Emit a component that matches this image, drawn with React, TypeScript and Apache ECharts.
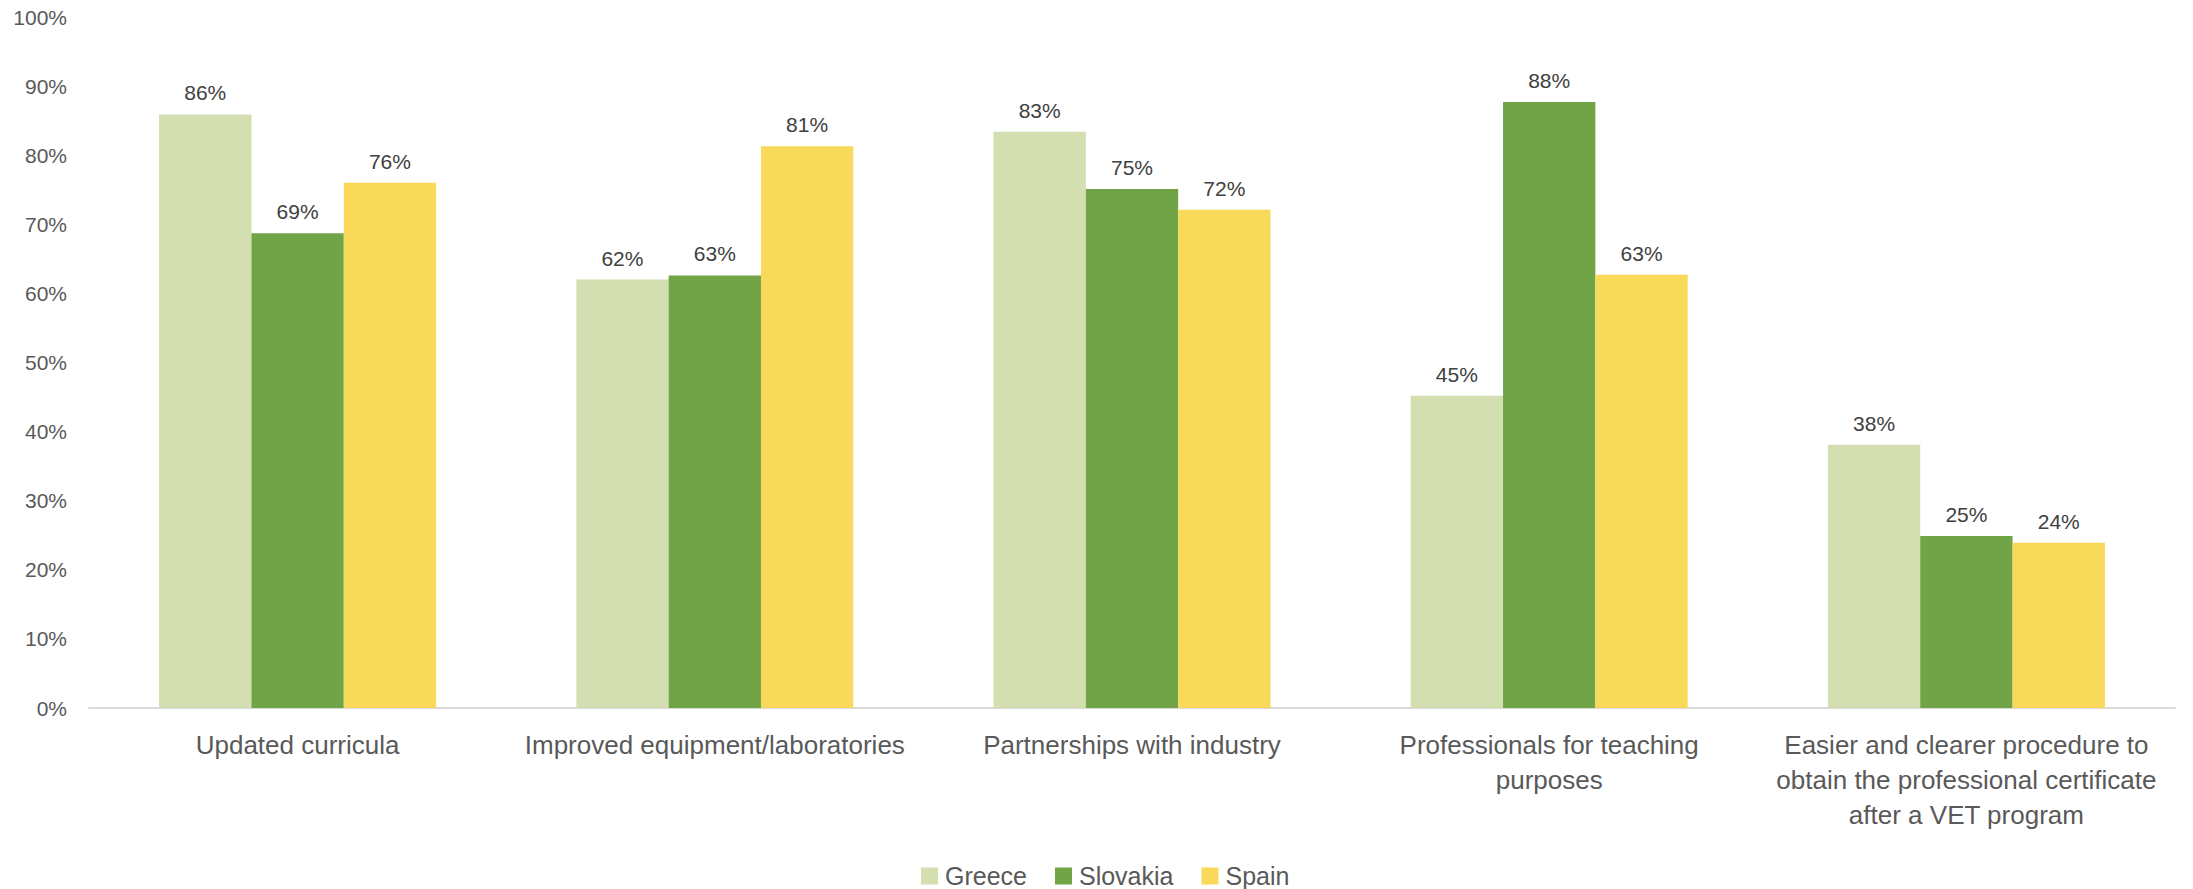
import React, { useEffect, useRef } from "react";
import * as echarts from "echarts";

const categories = [
  "Updated curricula",
  "Improved equipment/laboratories",
  "Partnerships with industry",
  "Professionals for teaching\npurposes",
  "Easier and clearer procedure to\nobtain the professional certificate\nafter a VET program",
];
const seriesNames = ["Greece", "Slovakia", "Spain"];
const greece = [85.9, 62.0, 83.4, 45.2, 38.1];
const slovakia = [68.7, 62.6, 75.1, 87.7, 24.9];
const spain = [76.0, 81.3, 72.1, 62.7, 23.9];
const colors = ["#D3DFB0", "#71A446", "#F8D95A"];
const yTicks = { min: 0, max: 100, interval: 10 };

export default function App() {
  const ref = useRef<HTMLDivElement>(null);
  useEffect(() => {
    if (!ref.current) return;
    const chart = echarts.init(ref.current, null, { renderer: "svg" });
    const font = "'Liberation Sans', Arial, sans-serif";
    const textColor = "#595959";
    const values = [greece, slovakia, spain];
    chart.setOption({
      animation: false,
      textStyle: { fontFamily: font, color: textColor },
      grid: { left: 89, right: 18, top: 17, bottom: 181, containLabel: false },
      legend: {
        left: 921,
        top: 862,
        padding: 0,
        itemWidth: 17,
        itemHeight: 17,
        itemGap: 28,
        icon: "rect",
        textStyle: {
          fontSize: 25,
          lineHeight: 28,
          color: textColor,
          fontFamily: font,
          padding: [0, 0, 0, 2],
        },
        data: seriesNames,
      },
      xAxis: {
        type: "category",
        data: categories,
        axisLine: { lineStyle: { color: "#D9D9D9", width: 2 } },
        axisTick: { show: false },
        axisLabel: {
          interval: 0,
          fontSize: 26,
          lineHeight: 35,
          color: textColor,
          margin: 19,
          fontFamily: font,
        },
      },
      yAxis: {
        type: "value",
        min: yTicks.min,
        max: yTicks.max,
        interval: yTicks.interval,
        splitLine: { show: false },
        axisLine: { show: false },
        axisTick: { show: false },
        axisLabel: {
          formatter: "{value}%",
          fontSize: 21,
          color: textColor,
          margin: 22,
          fontFamily: font,
        },
      },
      series: seriesNames.map((name, i) => ({
        name,
        type: "bar",
        data: values[i],
        barGap: "0%",
        barCategoryGap: "33.6%",
        itemStyle: { color: colors[i] },
        label: {
          show: true,
          position: "top",
          distance: 11,
          fontSize: 21,
          color: "#404040",
          fontFamily: font,
          formatter: (p: any) => Math.round(p.value) + "%",
        },
      })),
    });
    return () => chart.dispose();
  }, []);
  return (
    <div
      ref={ref}
      style={{ position: "fixed", left: 0, top: 0, width: 2193, height: 889, background: "#fff" }}
    />
  );
}
